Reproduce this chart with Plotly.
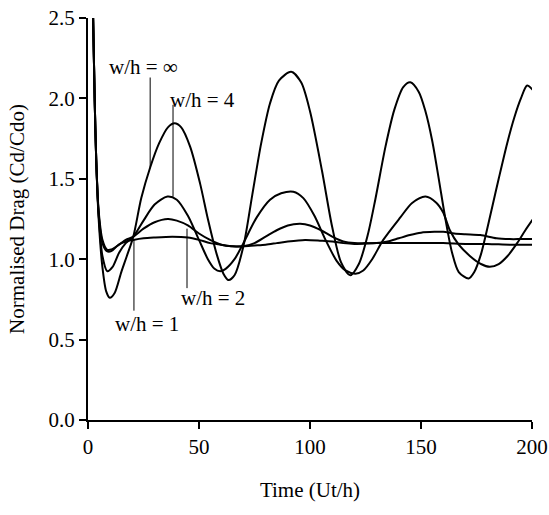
import plotly.graph_objects as go

# ---- data ----
t_inf = [2.3, 3.0, 3.7, 4.8, 6.5, 8.2, 9.8, 12, 15, 17.5, 20.4, 24, 28, 32, 36, 39, 42, 46, 50.5, 54, 58, 61, 63.3, 66, 70, 74, 78, 82, 86, 91.5, 96, 100, 105.4, 110, 114, 118.1, 122, 126, 129.4, 134, 138, 142, 145.2, 149, 152, 155, 158, 161, 164, 167, 171.5, 174, 177, 179, 182, 185, 188.8, 192, 195, 197.8, 200.5]
v_inf = [2.5, 2.0, 1.62, 1.25, 0.95, 0.8, 0.76, 0.79, 0.92, 1.02, 1.14, 1.38, 1.57, 1.72, 1.82, 1.845, 1.82, 1.7, 1.47, 1.25, 1.03, 0.91, 0.87, 0.9, 1.08, 1.4, 1.72, 1.97, 2.11, 2.165, 2.1, 1.92, 1.55, 1.2, 0.98, 0.9, 0.97, 1.15, 1.37, 1.7, 1.93, 2.07, 2.1, 2.04, 1.92, 1.74, 1.5, 1.25, 1.04, 0.92, 0.88, 0.92, 1.03, 1.14, 1.32, 1.5, 1.72, 1.88, 2.0, 2.08, 2.05]

t_4 = [2.3, 3.0, 3.7, 4.8, 6.5, 8.7, 11, 14, 17, 20.4, 25, 30, 35.8, 40, 45, 50, 54, 57, 59.5, 62, 66, 70, 76, 82, 87, 92.5, 97, 102, 107, 112, 116, 120.5, 124, 128, 133, 140.7, 146, 152, 157, 160, 163, 167, 172, 177, 181, 185, 189, 193.3, 197, 200.5]
v_4 = [2.5, 2.0, 1.62, 1.28, 1.02, 0.925, 0.95, 1.04, 1.1, 1.14, 1.24, 1.34, 1.39, 1.37, 1.27, 1.12, 1.0, 0.94, 0.925, 0.94, 1.0, 1.1, 1.26, 1.37, 1.41, 1.42, 1.38, 1.27, 1.12, 0.99, 0.93, 0.91, 0.93, 1.0, 1.12, 1.26, 1.35, 1.39, 1.35, 1.29, 1.18, 1.09, 1.02, 0.97, 0.953, 0.97, 1.02, 1.1, 1.18, 1.25]

t_2 = [2.3, 3.0, 3.7, 4.8, 6.5, 8.5, 10.5, 14, 17, 20.4, 25, 30, 36, 40, 45, 50, 55, 60, 65, 70, 75, 80, 85, 90, 95.6, 100, 105, 110, 115, 120, 125, 130, 135, 140, 145, 150, 156, 160, 165, 170, 176.7, 184, 190, 195, 200.5]
v_2 = [2.5, 2.0, 1.62, 1.3, 1.12, 1.06, 1.06, 1.09, 1.12, 1.14, 1.19, 1.23, 1.25, 1.24, 1.21, 1.16, 1.12, 1.09, 1.08, 1.08, 1.1, 1.14, 1.18, 1.21, 1.22, 1.21, 1.18, 1.14, 1.11, 1.1, 1.1, 1.1, 1.11, 1.13, 1.15, 1.165, 1.17, 1.17, 1.16, 1.155, 1.15, 1.13, 1.125, 1.125, 1.125]

t_1 = [2.3, 3.0, 3.7, 4.8, 6.5, 8.5, 10.5, 13.7, 17, 20.4, 25, 30, 38, 45, 50, 55, 60, 65, 70, 75, 80, 85, 90, 97.8, 105, 110, 115, 120, 130, 140, 150, 160, 170, 180, 190, 200.5]
v_1 = [2.5, 2.0, 1.62, 1.28, 1.1, 1.05, 1.05, 1.09, 1.11, 1.12, 1.13, 1.135, 1.14, 1.135, 1.12, 1.1, 1.09, 1.08, 1.08, 1.085, 1.09, 1.1, 1.11, 1.12, 1.115, 1.11, 1.1, 1.095, 1.1, 1.1, 1.1, 1.1, 1.095, 1.095, 1.09, 1.09]

x_ticks = [0, 50, 100, 150, 200]
y_ticks = [0.0, 0.5, 1.0, 1.5, 2.0, 2.5]
y_tick_text = ["0.0", "0.5", "1.0", "1.5", "2.0", "2.5"]

# labels: text, text position, leader line (x, y0, y1)
label_text = ["w/h = ∞", "w/h = 4", "w/h = 2", "w/h = 1"]
label_x = [25.0, 51.5, 56.1, 26.4]
label_y = [2.195, 1.99, 0.76, 0.594]
lead_x = [28.0, 38.3, 44.6, 20.7]
lead_y0 = [2.13, 1.96, 1.19, 1.12]
lead_y1 = [1.57, 1.39, 0.82, 0.68]

FONT = "Liberation Serif"

fig = go.Figure()
for tx, vy in [(t_inf, v_inf), (t_4, v_4), (t_2, v_2), (t_1, v_1)]:
    fig.add_trace(go.Scatter(x=tx, y=vy, mode="lines",
                             line=dict(color="black", width=2, shape="spline", smoothing=0.8),
                             showlegend=False, hoverinfo="skip", cliponaxis=True))

for i in range(len(label_text)):
    fig.add_shape(type="line", xref="x", yref="y", x0=lead_x[i], x1=lead_x[i],
                  y0=lead_y0[i], y1=lead_y1[i], line=dict(color="black", width=1))
    fig.add_annotation(x=label_x[i], y=label_y[i], xref="x", yref="y", text=label_text[i],
                       showarrow=False, font=dict(family=FONT, size=21, color="black"))

fig.update_layout(
    width=549, height=515,
    margin=dict(l=88, r=17, t=18, b=95),
    paper_bgcolor="white", plot_bgcolor="white",
    font=dict(family=FONT, size=21, color="black"),
    showlegend=False,
)
fig.update_xaxes(range=[0, 200], tickvals=x_ticks, showline=True, linecolor="black", linewidth=2,
                 ticks="outside", ticklen=7, tickwidth=2, tickcolor="black",
                 showgrid=False, zeroline=False, automargin=False,
                 title=dict(text="Time (Ut/h)", standoff=24, font=dict(family=FONT, size=21)))
fig.update_yaxes(range=[0, 2.5], tickvals=y_ticks, ticktext=y_tick_text, showline=True, linecolor="black",
                 linewidth=2, ticks="outside", ticklen=7, tickwidth=2, tickcolor="black",
                 showgrid=False, zeroline=False, automargin=False,
                 title=dict(text="Normalised Drag (Cd/Cdo)", standoff=18, font=dict(family=FONT, size=21)))

fig.write_html("out.html")
